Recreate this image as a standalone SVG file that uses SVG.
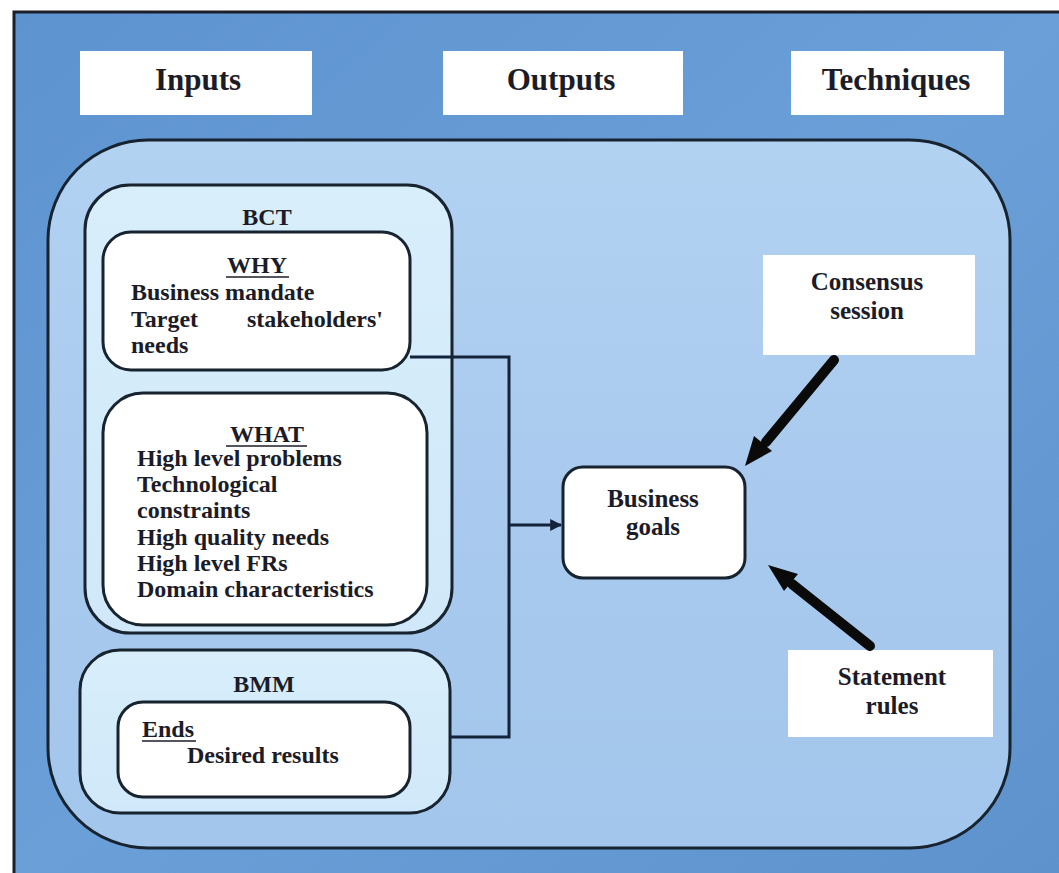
<svg xmlns="http://www.w3.org/2000/svg" width="1059" height="873" viewBox="0 0 1059 873">
<defs>
<style>
text{font-family:"Liberation Serif","Times New Roman",serif;font-weight:bold;fill:#1c1c28}
.hdr{font-size:31px}
.t24{font-size:24px}
.t25{font-size:25px}
.mid{text-anchor:middle}
.box{fill:#ffffff}
.rb{stroke:#17232f;stroke-width:3}
.conn{fill:none;stroke:#13233a;stroke-width:3}
.thick{fill:none;stroke:#0a0a0a;stroke-width:10;stroke-linecap:round}
.head{fill:#0a0a0a}
.ul{stroke:#1c1c28;stroke-width:1.6}
</style>
<linearGradient id="gOuter" x1="0" y1="0" x2="1" y2="1">
<stop offset="0" stop-color="#5d93cf"/><stop offset="0.5" stop-color="#6a9fd8"/><stop offset="1" stop-color="#5d92cc"/>
</linearGradient>
<linearGradient id="gInner" x1="0" y1="0" x2="0" y2="1">
<stop offset="0" stop-color="#b2d2f2"/><stop offset="0.5" stop-color="#a9caee"/><stop offset="1" stop-color="#a3c6ec"/>
</linearGradient>
<linearGradient id="gLight" x1="0" y1="0" x2="0" y2="1">
<stop offset="0" stop-color="#d8eefb"/><stop offset="1" stop-color="#d0e8f9"/>
</linearGradient>
<marker id="ah" viewBox="0 0 10 10" refX="9" refY="5" markerWidth="4" markerHeight="4" orient="auto" markerUnits="strokeWidth">
<path d="M0,0 L10,5 L0,10 z" fill="#13233a"/>
</marker>
</defs>

<g id="frame">
<rect x="14" y="12" width="1050" height="870" fill="url(#gOuter)" stroke="#1a1f2a" stroke-width="3"/>
</g>

<g id="inputs">
<rect class="box" x="80" y="51" width="232" height="64"/>
<text class="hdr mid" x="198" y="90">Inputs</text>
</g>
<g id="outputs">
<rect class="box" x="443" y="51" width="240" height="64"/>
<text class="hdr mid" x="561" y="90">Outputs</text>
</g>
<g id="techniques">
<rect class="box" x="791" y="51" width="213" height="64"/>
<text class="hdr mid" x="896" y="90">Techniques</text>
</g>

<g id="container">
<rect x="48" y="140" width="962" height="708" rx="100" ry="100" fill="url(#gInner)" class="rb"/>
</g>

<g id="bct">
<rect x="85" y="185" width="367" height="448" rx="45" ry="45" fill="url(#gLight)" class="rb"/>
<text class="t24 mid" x="267" y="225">BCT</text>
</g>

<g id="why">
<rect class="box rb" x="103" y="232" width="307" height="138" rx="28" ry="28"/>
<text class="t24 mid" x="257" y="273">WHY</text>
<line class="ul" x1="226" y1="277" x2="289" y2="277"/>
<text class="t24" x="131" y="300">Business mandate</text>
<text class="t24" x="131" y="327">Target</text>
<text class="t24" x="383" y="327" text-anchor="end">stakeholders'</text>
<text class="t24" x="131" y="353">needs</text>
</g>

<g id="what">
<rect class="box rb" x="103" y="393" width="324" height="232" rx="40" ry="40"/>
<text class="t24 mid" x="267" y="442">WHAT</text>
<line class="ul" x1="226" y1="446" x2="307" y2="446"/>
<text class="t24" x="137" y="466">High level problems</text>
<text class="t24" x="137" y="492">Technological</text>
<text class="t24" x="137" y="518">constraints</text>
<text class="t24" x="137" y="545">High quality needs</text>
<text class="t24" x="137" y="571">High level FRs</text>
<text class="t24" x="137" y="597">Domain characteristics</text>
</g>

<g id="bmm">
<rect x="80" y="650" width="370" height="163" rx="40" ry="40" fill="url(#gLight)" class="rb"/>
<text class="t24 mid" x="264" y="692">BMM</text>
</g>

<g id="ends">
<rect class="box rb" x="118" y="702" width="292" height="95" rx="25" ry="25"/>
<text class="t24" x="142" y="737">Ends</text>
<line class="ul" x1="142" y1="741" x2="196" y2="741"/>
<text class="t24" x="187" y="763">Desired results</text>
</g>

<g id="business-goals">
<rect class="box rb" x="563" y="467" width="182" height="111" rx="20" ry="20"/>
<text class="t25 mid" x="653" y="507">Business</text>
<text class="t25 mid" x="653" y="535">goals</text>
</g>

<g id="consensus">
<rect class="box" x="763" y="255" width="212" height="100"/>
<text class="t25 mid" x="867" y="290">Consensus</text>
<text class="t25 mid" x="867" y="319">session</text>
</g>

<g id="statement">
<rect class="box" x="788" y="650" width="205" height="87"/>
<text class="t25 mid" x="892" y="685">Statement</text>
<text class="t25 mid" x="892" y="714">rules</text>
</g>

<g id="connectors">
<polyline class="conn" points="410,357 509,357 509,737 450,737"/>
<line class="conn" x1="509" y1="525" x2="561" y2="525" marker-end="url(#ah)"/>
<line class="thick" x1="834" y1="360" x2="766" y2="442"/>
<polygon class="head" points="745,466 754,436 772,451"/>
<line class="thick" x1="870" y1="646" x2="792" y2="584"/>
<polygon class="head" points="768,565 798,574 784,591"/>
</g>
</svg>
